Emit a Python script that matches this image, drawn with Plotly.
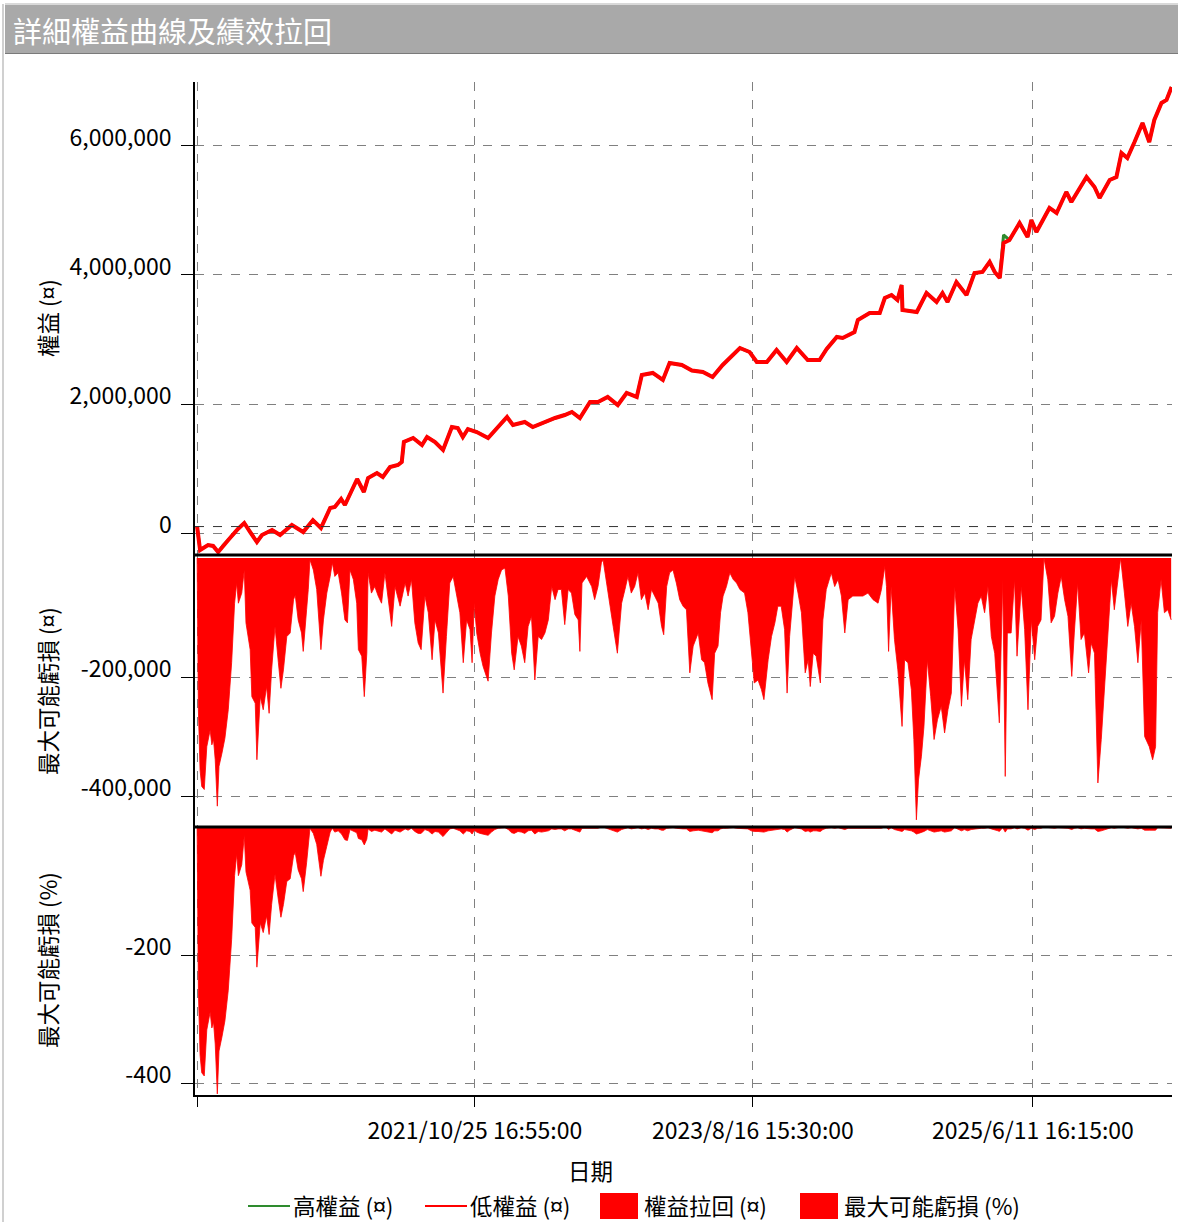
import plotly.graph_objects as go

# ---------------- data ----------------
equity_dates = [
    "2020-01-05", "2020-01-12", "2020-01-31", "2020-02-12", "2020-02-24", "2020-03-07",
    "2020-03-19", "2020-04-11", "2020-04-26", "2020-05-10", "2020-05-26", "2020-06-07",
    "2020-07-01", "2020-07-20", "2020-08-17", "2020-09-13", "2020-10-06", "2020-10-25",
    "2020-11-16", "2020-11-27", "2020-12-12", "2020-12-21", "2021-01-19", "2021-02-04",
    "2021-02-14", "2021-03-07", "2021-03-21", "2021-04-07", "2021-04-26", "2021-05-05",
    "2021-05-10", "2021-06-01", "2021-06-22", "2021-07-04", "2021-07-23", "2021-08-11",
    "2021-09-01", "2021-09-15", "2021-09-27", "2021-10-09", "2021-10-30", "2021-11-26",
    "2021-12-17", "2022-01-10", "2022-01-24", "2022-02-21", "2022-03-12", "2022-04-10",
    "2022-05-04", "2022-05-27", "2022-06-13", "2022-07-02", "2022-07-26", "2022-08-14",
    "2022-09-06", "2022-09-30", "2022-10-21", "2022-11-14", "2022-11-26", "2022-12-22",
    "2023-01-15", "2023-01-31", "2023-03-01", "2023-03-25", "2023-04-20", "2023-05-13",
    "2023-06-06", "2023-07-17", "2023-08-09", "2023-08-26", "2023-09-19", "2023-10-12",
    "2023-11-05", "2023-11-29", "2023-12-25", "2024-01-22", "2024-02-08", "2024-03-03",
    "2024-03-17", "2024-04-14", "2024-04-22", "2024-05-20", "2024-06-13", "2024-06-25",
    "2024-07-11", "2024-07-25", "2024-08-04", "2024-08-06", "2024-09-09", "2024-10-02",
    "2024-10-26", "2024-11-09", "2024-11-21", "2024-12-12", "2025-01-05", "2025-01-24",
    "2025-02-12", "2025-03-01", "2025-03-13", "2025-03-25", "2025-04-03", "2025-04-17",
    "2025-05-11", "2025-05-30", "2025-06-08", "2025-06-20", "2025-07-21", "2025-08-07",
    "2025-08-30", "2025-09-11", "2025-10-17", "2025-11-05", "2025-11-17", "2025-12-11",
    "2025-12-27", "2026-01-08", "2026-01-22", "2026-02-08", "2026-02-27", "2026-03-15",
    "2026-03-27", "2026-04-13", "2026-04-25", "2026-05-07",
]
equity_low = [
    100000, -264000, -186000, -200000, -295000, -190000,
    -108000, 62000, 155000, 15000, -140000, -31000,
    46000, -31000, 124000, 15000, 200000, 78000,
    388000, 403000, 527000, 434000, 837000, 636000,
    853000, 930000, 868000, 1023000, 1054000, 1101000,
    1411000, 1473000, 1364000, 1488000, 1411000, 1287000,
    1643000, 1628000, 1488000, 1612000, 1566000, 1473000,
    1628000, 1798000, 1674000, 1721000, 1643000, 1721000,
    1783000, 1829000, 1876000, 1783000, 2031000, 2031000,
    2109000, 1984000, 2171000, 2109000, 2450000, 2481000,
    2372000, 2636000, 2605000, 2520000, 2496000, 2419000,
    2605000, 2868000, 2806000, 2651000, 2651000, 2837000,
    2651000, 2868000, 2682000, 2682000, 2853000, 3039000,
    3023000, 3116000, 3302000, 3411000, 3411000, 3643000,
    3690000, 3612000, 3845000, 3457000, 3426000, 3721000,
    3581000, 3721000, 3581000, 3891000, 3690000, 4031000,
    4047000, 4202000, 4047000, 3953000, 4496000, 4543000,
    4806000, 4589000, 4853000, 4667000, 5039000, 4961000,
    5287000, 5132000, 5519000, 5364000, 5194000, 5473000,
    5519000, 5891000, 5814000, 6062000, 6357000, 6062000,
    6403000, 6667000, 6713000, 6915000,
]
# points where the high-equity line sits visibly above the low-equity line
high_equity_spikes = {"2025-04-03": 4620000}
initial_equity = 100000

dd_dates = [
    "2020-01-05", "2020-01-08", "2020-01-12", "2020-01-16", "2020-01-22", "2020-01-28",
    "2020-02-05", "2020-02-09", "2020-02-13", "2020-02-17", "2020-02-22", "2020-02-26",
    "2020-03-04", "2020-03-11", "2020-03-19", "2020-03-23", "2020-03-27", "2020-04-03",
    "2020-04-08", "2020-04-12", "2020-04-20", "2020-04-26", "2020-04-30", "2020-05-10",
    "2020-05-14", "2020-05-22", "2020-05-26", "2020-06-03", "2020-06-10", "2020-06-18",
    "2020-06-24", "2020-06-30", "2020-07-08", "2020-07-16", "2020-07-22", "2020-07-28",
    "2020-08-05", "2020-08-13", "2020-08-21", "2020-08-25", "2020-09-01", "2020-09-09",
    "2020-09-13", "2020-09-21", "2020-09-25", "2020-09-29", "2020-10-07", "2020-10-15",
    "2020-10-25", "2020-10-31", "2020-11-08", "2020-11-16", "2020-11-21", "2020-11-27",
    "2020-12-05", "2020-12-13", "2020-12-21", "2020-12-27", "2021-01-02", "2021-01-10",
    "2021-01-18", "2021-01-22", "2021-01-30", "2021-02-05", "2021-02-11", "2021-02-14",
    "2021-02-22", "2021-03-02", "2021-03-10", "2021-03-18", "2021-03-26", "2021-04-03",
    "2021-04-11", "2021-04-19", "2021-05-01", "2021-05-13", "2021-05-20", "2021-05-28",
    "2021-06-05", "2021-06-13", "2021-06-20", "2021-06-29", "2021-07-07", "2021-07-16",
    "2021-07-23", "2021-07-31", "2021-08-11", "2021-08-19", "2021-08-27", "2021-09-04",
    "2021-09-12", "2021-09-20", "2021-09-28", "2021-10-06", "2021-10-14", "2021-10-19",
    "2021-10-24", "2021-10-30", "2021-11-07", "2021-11-14", "2021-11-22", "2021-11-26",
    "2021-12-04", "2021-12-12", "2021-12-20", "2021-12-28", "2022-01-05", "2022-01-13",
    "2022-01-21", "2022-01-27", "2022-02-05", "2022-02-13", "2022-02-21", "2022-03-01",
    "2022-03-09", "2022-03-17", "2022-03-25", "2022-04-02", "2022-04-10", "2022-04-18",
    "2022-04-26", "2022-05-04", "2022-05-11", "2022-05-19", "2022-05-27", "2022-06-04",
    "2022-06-12", "2022-06-20", "2022-06-28", "2022-07-02", "2022-07-07", "2022-07-18",
    "2022-07-30", "2022-08-06", "2022-08-14", "2022-08-22", "2022-08-26", "2022-09-03",
    "2022-09-11", "2022-09-19", "2022-09-29", "2022-10-09", "2022-10-17", "2022-10-24",
    "2022-11-01", "2022-11-09", "2022-11-17", "2022-11-25", "2022-12-03", "2022-12-11",
    "2022-12-19", "2022-12-27", "2023-01-04", "2023-01-12", "2023-01-17", "2023-01-24",
    "2023-01-31", "2023-02-08", "2023-02-16", "2023-02-24", "2023-03-04", "2023-03-12",
    "2023-03-20", "2023-03-28", "2023-04-09", "2023-04-17", "2023-04-24", "2023-05-02",
    "2023-05-12", "2023-05-18", "2023-05-26", "2023-06-01", "2023-06-07", "2023-06-15",
    "2023-06-23", "2023-07-01", "2023-07-09", "2023-07-17", "2023-07-28", "2023-08-05",
    "2023-08-13", "2023-08-20", "2023-08-29", "2023-09-06", "2023-09-12", "2023-09-22",
    "2023-09-30", "2023-10-08", "2023-10-15", "2023-10-23", "2023-10-31", "2023-11-06",
    "2023-11-12", "2023-11-24", "2023-12-02", "2023-12-10", "2023-12-19", "2023-12-26",
    "2023-12-31", "2024-01-07", "2024-01-14", "2024-01-24", "2024-01-30", "2024-02-07",
    "2024-02-19", "2024-02-27", "2024-03-06", "2024-03-14", "2024-03-22", "2024-03-30",
    "2024-04-10", "2024-04-22", "2024-05-04", "2024-05-16", "2024-05-28", "2024-06-09",
    "2024-06-17", "2024-06-25", "2024-06-29", "2024-07-04", "2024-07-10", "2024-07-18",
    "2024-07-26", "2024-08-05", "2024-08-11", "2024-08-19", "2024-08-27", "2024-09-02",
    "2024-09-08", "2024-09-13", "2024-09-20", "2024-09-26", "2024-10-04", "2024-10-12",
    "2024-10-20", "2024-10-28", "2024-11-06", "2024-11-14", "2024-11-22", "2024-11-30",
    "2024-12-08", "2024-12-16", "2024-12-24", "2024-12-31", "2025-01-08", "2025-01-16",
    "2025-01-24", "2025-02-01", "2025-02-09", "2025-02-17", "2025-02-25", "2025-03-05",
    "2025-03-13", "2025-03-21", "2025-03-24", "2025-04-01", "2025-04-07", "2025-04-12",
    "2025-04-21", "2025-04-29", "2025-05-05", "2025-05-15", "2025-05-23", "2025-05-31",
    "2025-06-08", "2025-06-16", "2025-06-23", "2025-07-01", "2025-07-08", "2025-07-17",
    "2025-07-25", "2025-08-02", "2025-08-10", "2025-08-18", "2025-08-26", "2025-09-03",
    "2025-09-12", "2025-09-18", "2025-09-26", "2025-10-04", "2025-10-12", "2025-10-22",
    "2025-10-28", "2025-11-05", "2025-11-13", "2025-11-21", "2025-11-29", "2025-12-07",
    "2025-12-15", "2025-12-22", "2025-12-30", "2026-01-06", "2026-01-15", "2026-01-23",
    "2026-01-31", "2026-02-08", "2026-02-16", "2026-02-24", "2026-03-04", "2026-03-15",
    "2026-03-23", "2026-03-30", "2026-04-04", "2026-04-12", "2026-04-20", "2026-04-28",
    "2026-05-06",
]
# drawdown in thousands
dd_values_k = [
    0, -255, -356, -384, -389, -317,
    -289, -314, -305, -339, -417, -350,
    -328, -303, -255, -216, -176, -76,
    -42, -76, -59, -20, -109, -154,
    -233, -244, -339, -233, -255, -216,
    -261, -188, -115, -176, -219, -188,
    -132, -126, -70, -62, -104, -126,
    -157, -87, -53, -3, -20, -53,
    -154, -104, -59, -31, -8, -31,
    -25, -59, -104, -109, -20, -36,
    -76, -154, -165, -233, -160, -25,
    -59, -48, -64, -76, -25, -70,
    -115, -48, -81, -42, -64, -36,
    -109, -143, -154, -64, -92, -171,
    -104, -126, -227, -132, -42, -31,
    -59, -92, -176, -104, -120, -176,
    -76, -126, -160, -182, -199, -207,
    -126, -64, -36, -20, -17, -64,
    -160, -188, -132, -148, -176, -115,
    -98, -205, -132, -137, -126, -104,
    -48, -70, -53, -53, -112, -53,
    -59, -95, -104, -157, -42, -31,
    -48, -70, -48, -8, -3, -42,
    -81, -115, -160, -76, -53, -31,
    -59, -48, -25, -70, -59, -87,
    -53, -64, -76, -115, -129, -48,
    -25, -20, -42, -70, -81, -87,
    -193, -148, -126, -171, -176, -210,
    -238, -160, -148, -92, -64, -48,
    -25, -36, -42, -53, -59, -92,
    -160, -210, -205, -221, -238, -171,
    -132, -109, -81, -81, -120, -227,
    -132, -31, -59, -92, -193, -171,
    -216, -160, -165, -210, -104, -53,
    -25, -48, -36, -64, -126, -70,
    -64, -64, -64, -59, -70, -76,
    -53, -14, -48, -157, -48, -137,
    -188, -283, -171, -176, -221, -305,
    -440, -373, -333, -283, -171, -233,
    -305, -272, -249, -294, -255, -227,
    -48, -120, -249, -171, -238, -137,
    -104, -76, -64, -92, -48, -132,
    -160, -238, -277, -36, -367, -126,
    -126, -36, -165, -48, -120, -255,
    -104, -171, -115, -104, 0, -36,
    -109, -98, -59, -31, -70, -98,
    -199, -126, -42, -137, -126, -193,
    -143, -160, -378, -305, -216, -132,
    -36, -87, -42, 0, -59, -115,
    -76, -115, -176, -104, -300, -317,
    -339, -317, -92, -36, -92, -87,
    -104,
]
dd_pct = [
    0, -255, -356, -384, -389, -317,
    -289, -314, -305, -339, -417, -350,
    -328, -303, -255, -216, -176, -76,
    -42, -76, -59, -13, -70, -99,
    -150, -157, -219, -150, -165, -139,
    -168, -121, -74, -114, -141, -121,
    -85, -81, -45, -40, -67, -81,
    -101, -56, -34, -2, -10, -27,
    -77, -52, -30, -8, -2, -8,
    -6, -11, -20, -21, -4, -6,
    -9, -18, -20, -28, -19, -3,
    -7, -5, -7, -8, -3, -7,
    -11, -5, -8, -3, -5, -2,
    -7, -10, -10, -4, -6, -11,
    -7, -8, -15, -9, -3, -2,
    -4, -6, -11, -6, -7, -11,
    -5, -8, -10, -11, -12, -13,
    -8, -4, -2, -1, -1, -4,
    -9, -10, -7, -8, -10, -6,
    -5, -11, -7, -8, -7, -6,
    -3, -4, -3, -3, -6, -3,
    -3, -5, -6, -8, -2, -2,
    -2, -3, -2, 0, 0, -2,
    -4, -5, -8, -4, -2, -1,
    -3, -2, -1, -3, -2, -4,
    -2, -3, -3, -5, -5, -2,
    -1, -1, -2, -3, -3, -3,
    -7, -6, -5, -6, -7, -8,
    -9, -6, -6, -3, -2, -2,
    -1, -1, -2, -2, -2, -3,
    -6, -7, -7, -8, -8, -6,
    -5, -4, -3, -3, -4, -8,
    -5, -1, -2, -3, -7, -6,
    -8, -6, -6, -7, -4, -2,
    -1, -2, -1, -2, -4, -2,
    -2, -2, -2, -2, -2, -2,
    -2, 0, -1, -4, -1, -4,
    -5, -7, -4, -5, -6, -8,
    -11, -10, -9, -7, -4, -6,
    -8, -7, -6, -8, -7, -6,
    -1, -3, -6, -4, -6, -4,
    -3, -2, -2, -2, -1, -3,
    -4, -6, -7, -1, -8, -3,
    -3, -1, -3, -1, -2, -5,
    -2, -4, -2, -2, 0, -1,
    -2, -2, -1, -1, -1, -2,
    -4, -2, -1, -3, -2, -3,
    -3, -3, -7, -6, -4, -2,
    -1, -2, -1, 0, -1, -2,
    -1, -2, -3, -2, -5, -5,
    -5, -5, -1, -1, -1, -1,
    -2,
]

x_tick_vals = ["2020-01-05", "2021-10-25 16:55", "2023-08-16 15:30", "2025-06-11 16:15"]
x_tick_text = ["", "2021/10/25 16:55:00", "2023/8/16 15:30:00", "2025/6/11 16:15:00"]
equity_ticks = [0, 2000000, 4000000, 6000000]
dd_ticks = [-200000, -400000]
pct_ticks = [-200, -400]

series_names = ["高權益 (¤)", "低權益 (¤)", "權益拉回 (¤)", "最大可能虧損 (%)"]

# ---------------- figure ----------------
FONT = "Noto Sans CJK TC, Noto Sans, sans-serif"
NUM_SIZE = 23
TXT_SIZE = 22.5
RED = "#ff0000"
GREEN = "#2e8b2e"

equity_high = [max(v, high_equity_spikes.get(d, v)) for d, v in zip(equity_dates, equity_low)]
dd_values = [v * 1000 for v in dd_values_k]

fig = go.Figure()
fig.add_trace(go.Scatter(x=equity_dates, y=equity_high, mode="lines", name=series_names[0],
                         line=dict(color=GREEN, width=3), xaxis="x", yaxis="y"))
fig.add_trace(go.Scatter(x=equity_dates, y=equity_low, mode="lines", name=series_names[1],
                         line=dict(color=RED, width=4), xaxis="x", yaxis="y"))
fig.add_trace(go.Scatter(x=dd_dates, y=dd_values, mode="lines", name=series_names[2],
                         line=dict(color=RED, width=0.8), fill="tozeroy", fillcolor=RED,
                         xaxis="x", yaxis="y2"))
fig.add_trace(go.Scatter(x=dd_dates, y=dd_pct, mode="lines", name=series_names[3],
                         line=dict(color=RED, width=0.8), fill="tozeroy", fillcolor=RED,
                         xaxis="x", yaxis="y3"))

H_TOTAL = 1013.0
d3 = 268 / H_TOTAL
d2 = (268 + 272) / H_TOTAL

grid = dict(showgrid=True, gridcolor="#808080", griddash="dash", gridwidth=1)
yax_common = dict(showline=True, linecolor="black", linewidth=1.5, ticks="outside", ticklen=12,
                  tickcolor="black", tickwidth=1, zeroline=False,
                  tickfont=dict(family=FONT, size=NUM_SIZE, color="black"),
                  ticklabelstandoff=5, ticklabelshift=-8, **grid)

fig.update_layout(
    width=1178, height=1222,
    margin=dict(l=195, r=6, t=82, b=127),
    paper_bgcolor="white", plot_bgcolor="white",
    font=dict(family=FONT, size=TXT_SIZE, color="black"),
    showlegend=False,
    xaxis=dict(domain=[0, 1], anchor="y3", type="date",
               range=["2019-12-31", "2026-05-08"],
               tickmode="array", tickvals=x_tick_vals, ticktext=x_tick_text,
               ticks="outside", ticklen=10, tickcolor="black",
               showline=True, linecolor="black", linewidth=1.5, zeroline=False,
               tickfont=dict(family=FONT, size=NUM_SIZE, color="black"), ticklabelstandoff=5,
               **grid),
    yaxis=dict(domain=[d2, 1], anchor="x", range=[-341000, 6992000],
               tickmode="array", tickvals=equity_ticks,
               ticktext=[f"{v:,}" for v in equity_ticks], **yax_common),
    yaxis2=dict(domain=[d3, d2], anchor="x", range=[-452000, 5000],
                tickmode="array", tickvals=dd_ticks,
                ticktext=[f"{v:,}" for v in dd_ticks], **yax_common),
    yaxis3=dict(domain=[0, d3], anchor="x", range=[-418.75, 0],
                tickmode="array", tickvals=pct_ticks,
                ticktext=[str(v) for v in pct_ticks], **yax_common),
)

W_PLOT = 977.0
def px_x(px):
    return (px - 195) / W_PLOT
def px_y(py):
    return (1095 - py) / H_TOTAL

shapes = [
    # title bar
    dict(type="rect", xref="paper", yref="paper", x0=px_x(5), x1=px_x(1180),
         y0=px_y(53), y1=px_y(5), fillcolor="#a9a9a9", line=dict(width=0), layer="below"),
    dict(type="line", xref="paper", yref="paper", x0=px_x(5), x1=px_x(1180),
         y0=px_y(53.5), y1=px_y(53.5), line=dict(color="#7a7a7a", width=1)),
    dict(type="line", xref="paper", yref="paper", x0=px_x(5), x1=px_x(1180),
         y0=px_y(4), y1=px_y(4), line=dict(color="#d9d9d9", width=2)),
    # left page border
    dict(type="line", xref="paper", yref="paper", x0=px_x(3), x1=px_x(3),
         y0=px_y(4), y1=px_y(1222), line=dict(color="#d0d0d0", width=2)),
    # thick separators at top of lower panels
    dict(type="line", xref="x domain", yref="y2 domain", x0=0, x1=1, y0=1, y1=1,
         line=dict(color="black", width=3)),
    dict(type="line", xref="x domain", yref="y3 domain", x0=0, x1=1, y0=1, y1=1,
         line=dict(color="black", width=3)),
    # initial-equity reference line
    dict(type="line", xref="x domain", yref="y", x0=0, x1=1, y0=initial_equity, y1=initial_equity,
         line=dict(color="#333333", width=1, dash="dash")),
]

annotations = [
    dict(text="詳細權益曲線及績效拉回", xref="paper", yref="paper", x=px_x(11), y=px_y(30),
         xanchor="left", yanchor="middle", showarrow=False,
         font=dict(family=FONT, size=29, color="white")),
    dict(text="權益 (¤)", xref="paper", yref="paper", x=px_x(47), y=px_y(318),
         xanchor="center", yanchor="middle", textangle=-90, showarrow=False,
         font=dict(family=FONT, size=TXT_SIZE, color="black")),
    dict(text="最大可能虧損 (¤)", xref="paper", yref="paper", x=px_x(47), y=px_y(691),
         xanchor="center", yanchor="middle", textangle=-90, showarrow=False,
         font=dict(family=FONT, size=TXT_SIZE, color="black")),
    dict(text="最大可能虧損 (%)", xref="paper", yref="paper", x=px_x(47), y=px_y(960),
         xanchor="center", yanchor="middle", textangle=-90, showarrow=False,
         font=dict(family=FONT, size=TXT_SIZE, color="black")),
    dict(text="日期", xref="paper", yref="paper", x=px_x(590), y=px_y(1170),
         xanchor="center", yanchor="middle", showarrow=False,
         font=dict(family=FONT, size=TXT_SIZE, color="black")),
]

# manual legend (line swatches for equity, box swatches for drawdowns)
LEG_Y = 1205
legend_items = [
    ("line", GREEN, 248, series_names[0]),
    ("line", RED, 425, series_names[1]),
    ("box", RED, 600, series_names[2]),
    ("box", RED, 800, series_names[3]),
]
for kind, color, x0, label in legend_items:
    if kind == "line":
        shapes.append(dict(type="line", xref="paper", yref="paper",
                           x0=px_x(x0), x1=px_x(x0 + 42), y0=px_y(LEG_Y + 1), y1=px_y(LEG_Y + 1),
                           line=dict(color=color, width=2)))
        tx = x0 + 43
    else:
        shapes.append(dict(type="rect", xref="paper", yref="paper",
                           x0=px_x(x0), x1=px_x(x0 + 38), y0=px_y(LEG_Y + 14), y1=px_y(LEG_Y - 12),
                           fillcolor=color, line=dict(width=0)))
        tx = x0 + 42
    annotations.append(dict(text=label, xref="paper", yref="paper", x=px_x(tx), y=px_y(LEG_Y),
                            xanchor="left", yanchor="middle", showarrow=False,
                            font=dict(family=FONT, size=TXT_SIZE, color="black")))

fig.update_layout(shapes=shapes, annotations=annotations)

fig.write_html("out.html")
